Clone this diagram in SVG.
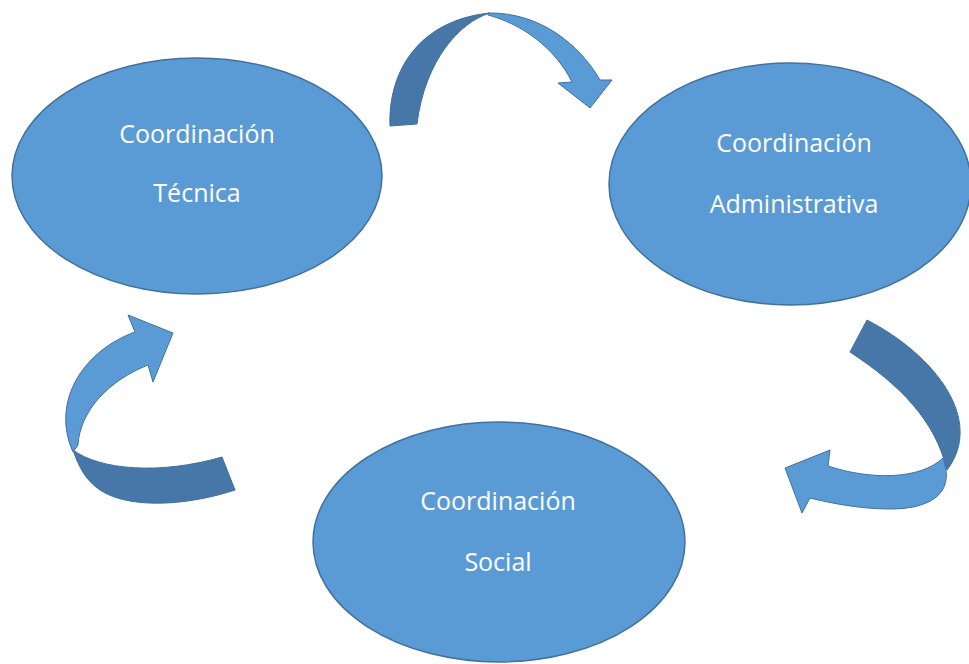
<svg xmlns="http://www.w3.org/2000/svg" width="969" height="664" viewBox="0 0 969 664">
<style>
.node{fill:#5b9bd5;stroke:#41719c;stroke-width:1.5}
.lbl{font-family:"Open Sans","Liberation Sans",sans-serif;font-size:25px;fill:#ffffff;text-anchor:middle}
.dark{fill:#4677a8;stroke:#41719c;stroke-width:1}
.light{fill:#5b9bd5;stroke:#41719c;stroke-width:1}
</style>
<rect width="969" height="664" fill="#ffffff"/>
<g id="tecnica">
<ellipse class="node" cx="197" cy="176" rx="185" ry="118"/>
<text class="lbl" x="197" y="143">Coordinación</text>
<text class="lbl" x="197" y="202">Técnica</text>
</g>
<g id="administrativa">
<ellipse class="node" cx="790" cy="184" rx="181" ry="121"/>
<text class="lbl" x="794" y="152">Coordinación</text>
<text class="lbl" x="794" y="213">Administrativa</text>
</g>
<g id="social">
<ellipse class="node" cx="499" cy="542" rx="186" ry="120"/>
<text class="lbl" x="498" y="510">Coordinación</text>
<text class="lbl" x="498" y="571">Social</text>
</g>
<g id="connectors">
<path class="dark" d="M390,126 C388,70 420,20 490,13 C460,22 425,60 417,124 Z"/>
<path class="light" d="M488,13 C540,12 580,45 600,80 L612,80 L590,108 L558,83 L572,82 C555,48 522,24 488,15 Z"/>
<path class="dark" d="M867,320 C935,355 985,420 947,470 C935,420 900,385 850,352 Z"/>
<path class="light" d="M943,458 C957,497 925,509 890,509 C860,509 830,503 810,498 L802,513 L785,468 L830,450 L828,466 C870,480 920,480 943,458 Z"/>
<path class="dark" d="M222,457 L235,490 C190,505 130,510 100,490 C85,480 78,465 73,450 C100,470 160,475 222,457 Z"/>
<path class="light" d="M73,452 C50,400 85,350 135,332 L128,315 L173,333 L153,382 L148,365 C110,380 80,410 78,445 Z"/>
</g>
</svg>
